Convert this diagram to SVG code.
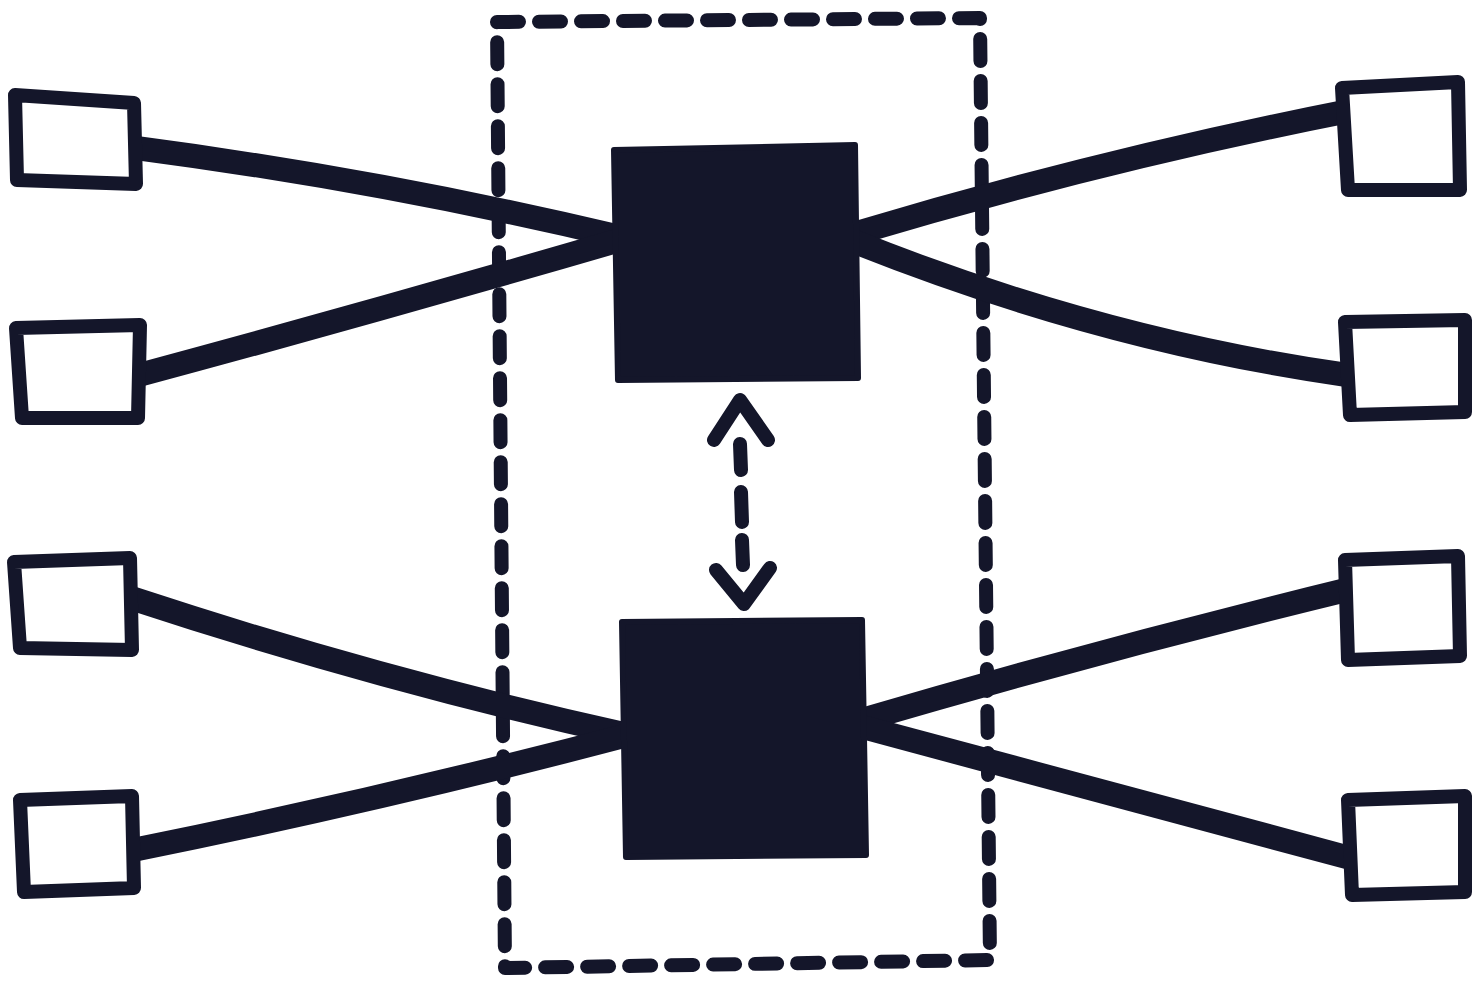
<svg xmlns="http://www.w3.org/2000/svg" width="1477" height="987" viewBox="0 0 1477 987">
<style>
.ink{stroke:#14162a;fill:none;stroke-linecap:round;stroke-linejoin:round}
.box{stroke-width:14}
.wire{stroke-width:24;stroke-linecap:butt}
.hub{fill:#14162a;stroke:#14162a;stroke-width:6;stroke-linejoin:round}
.dash{stroke-width:14;stroke-dasharray:22 20}
</style>
<rect width="1477" height="987" fill="#ffffff"/>
<g id="boundary">
<path class="ink dash" d="M497 22 L980 18 L990 960 L505 968 Z"/>
</g>
<g id="connectors">
<path class="ink wire" d="M136 148 Q380 180 620 237"/>
<path class="ink wire" d="M139 375 Q380 310 620 240"/>
<path class="ink wire" d="M850 235 Q1100 160 1344 112"/>
<path class="ink wire" d="M850 240 Q1100 340 1347 375"/>
<path class="ink wire" d="M131 598 Q380 680 628 735"/>
<path class="ink wire" d="M133 850 Q380 800 628 735"/>
<path class="ink wire" d="M855 722 Q1100 650 1346 590"/>
<path class="ink wire" d="M855 725 Q1100 790 1350 858"/>
<g id="sync-arrow">
<path class="ink box" d="M714 440 L740 400 L768 440"/>
<path class="ink box" d="M740 444 L741 470 M741 492 L742 522 M742 540 L743 565"/>
<path class="ink box" d="M716 570 L744 604 L770 568"/>
</g>
</g>
<g id="hub-top"><path class="hub" d="M614 150 L855 145 L858 378 L618 380 Z"/></g>
<g id="hub-bottom"><path class="hub" d="M622 622 L862 620 L866 855 L626 857 Z"/></g>
<g id="left-1"><path class="ink box" d="M15 95 L134 103 L136 184 L17 180 Z"/></g>
<g id="left-2"><path class="ink box" d="M16 328 L140 325 L138 418 L22 418 Z"/></g>
<g id="left-3"><path class="ink box" d="M14 562 L130 558 L132 650 L20 648 Z"/></g>
<g id="left-4"><path class="ink box" d="M20 800 L132 796 L134 888 L24 892 Z"/></g>
<g id="right-1"><path class="ink box" d="M1342 88 L1458 82 L1460 190 L1348 190 Z"/></g>
<g id="right-2"><path class="ink box" d="M1345 322 L1465 320 L1465 412 L1350 415 Z"/></g>
<g id="right-3"><path class="ink box" d="M1345 560 L1458 556 L1460 656 L1348 660 Z"/></g>
<g id="right-4"><path class="ink box" d="M1348 800 L1465 796 L1465 892 L1352 895 Z"/></g>
</svg>
